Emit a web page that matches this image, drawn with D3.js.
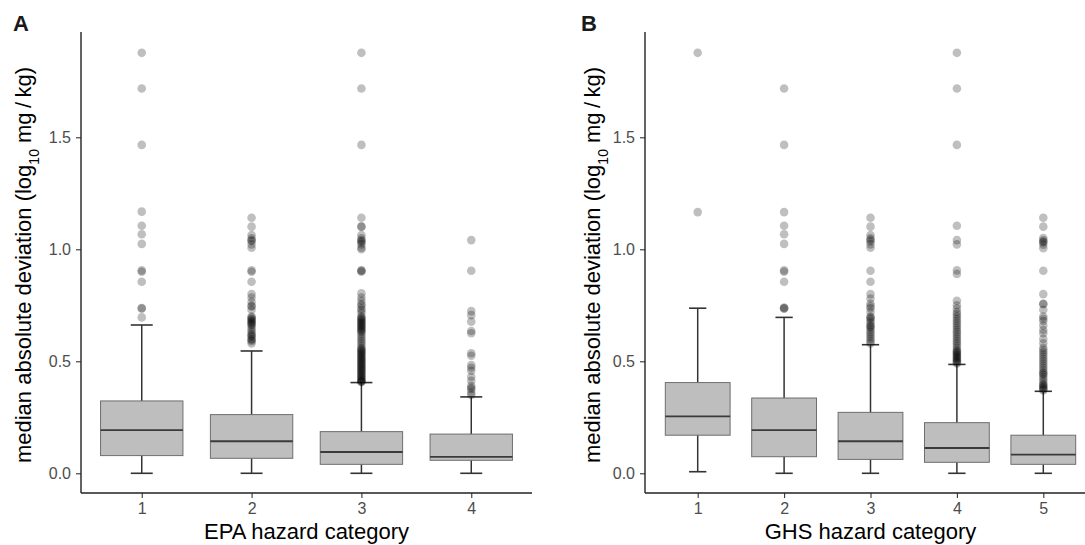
<!DOCTYPE html>
<html>
<head>
<meta charset="utf-8">
<script src="https://cdn.jsdelivr.net/npm/d3@7"></script>
<style>
  body { margin: 0; background: #fff; }
  svg { font-family: "Liberation Sans", Arial, sans-serif; display: block; }
  .tick text { font-size: 16px; }
</style>
</head>
<body>
<svg id="chart" width="1085" height="545"></svg>
<script>

/////////////////////////////////
// DATA
//////////////////////////////////

// Panel A - EPA hazard category
var epaCats = ["1", "2", "3", "4"];
var epaLow = [0.0, 0.0, 0.0, 0.0];
var epaQ1 = [0.079, 0.067, 0.040, 0.058];
var epaMedian = [0.193, 0.143, 0.095, 0.073];
var epaQ3 = [0.323, 0.262, 0.186, 0.175];
var epaHigh = [0.662, 0.546, 0.405, 0.341];
var epaOutliers = [
  [1.877, 1.718, 1.466, 1.168, 1.105, 1.067, 1.024, 0.906, 0.900, 0.855, 0.738, 0.735, 0.696],
  [1.141, 1.101, 1.064, 1.049, 1.040, 1.037, 1.022, 1.007, 0.906, 0.900, 0.855, 0.800, 0.785,
   0.765, 0.748, 0.745, 0.730, 0.700, 0.695, 0.690, 0.685, 0.680, 0.675, 0.670, 0.665, 0.660,
   0.650, 0.640, 0.630, 0.620, 0.615, 0.610, 0.600, 0.595, 0.590, 0.580],
  [1.877, 1.718, 1.466, 1.141, 1.101, 1.101, 1.064, 1.049, 1.040, 1.037, 1.030, 1.022, 1.007,
   1.000, 0.906, 0.904, 0.900, 0.803, 0.785, 0.770, 0.755, 0.748, 0.735, 0.727, 0.715, 0.700,
   0.695, 0.690, 0.685, 0.680, 0.675, 0.670, 0.665, 0.660, 0.655, 0.650, 0.645, 0.640, 0.635,
   0.630, 0.620, 0.610, 0.600, 0.590, 0.580, 0.570, 0.560, 0.555, 0.550, 0.545, 0.540, 0.535,
   0.530, 0.525, 0.520, 0.515, 0.510, 0.505, 0.500, 0.495, 0.490, 0.485, 0.480, 0.475, 0.470,
   0.465, 0.460, 0.455, 0.450, 0.445, 0.440, 0.435, 0.430, 0.425, 0.420, 0.415, 0.410, 0.410, 0.408],
  [1.041, 0.904, 0.724, 0.706, 0.677, 0.635, 0.625, 0.536, 0.525, 0.483, 0.471, 0.458, 0.431,
   0.413, 0.391, 0.382, 0.375, 0.360, 0.350]
];

// Panel B - GHS hazard category
var ghsCats = ["1", "2", "3", "4", "5"];
var ghsLow = [0.007, 0.0, 0.0, 0.0, 0.0];
var ghsQ1 = [0.170, 0.074, 0.062, 0.049, 0.040];
var ghsMedian = [0.254, 0.193, 0.143, 0.113, 0.083];
var ghsQ3 = [0.405, 0.336, 0.272, 0.226, 0.170];
var ghsHigh = [0.737, 0.696, 0.574, 0.486, 0.366];
var ghsOutliers = [
  [1.877, 1.166],
  [1.718, 1.466, 1.166, 1.105, 1.067, 1.024, 0.906, 0.900, 0.855, 0.740, 0.737, 0.735],
  [1.141, 1.101, 1.064, 1.049, 1.042, 1.035, 1.022, 1.007, 0.904, 0.855, 0.800, 0.780, 0.757,
   0.745, 0.737, 0.720, 0.700, 0.695, 0.690, 0.680, 0.670, 0.660, 0.655, 0.650, 0.640, 0.630,
   0.620, 0.610, 0.600, 0.590, 0.580],
  [1.877, 1.718, 1.466, 1.105, 1.041, 1.022, 0.906, 0.890, 0.770, 0.750, 0.735, 0.720, 0.710,
   0.700, 0.690, 0.680, 0.670, 0.660, 0.650, 0.640, 0.630, 0.620, 0.610, 0.600, 0.590, 0.580,
   0.570, 0.560, 0.550, 0.545, 0.540, 0.535, 0.530, 0.525, 0.520, 0.515, 0.510, 0.505, 0.500,
   0.495, 0.490],
  [1.141, 1.101, 1.050, 1.040, 1.035, 1.030, 1.020, 1.005, 0.904, 0.800, 0.757, 0.755, 0.730,
   0.700, 0.690, 0.680, 0.660, 0.640, 0.625, 0.600, 0.580, 0.560, 0.550, 0.540, 0.530, 0.520,
   0.510, 0.500, 0.490, 0.480, 0.470, 0.460, 0.450, 0.445, 0.440, 0.430, 0.420, 0.410, 0.400,
   0.395, 0.390, 0.385, 0.380, 0.375, 0.370]
];

var yTicks = [0.0, 0.5, 1.0, 1.5];


/////////////////////////////////
// LAYOUT
//////////////////////////////////

var svg = d3.select("#chart");

var plotTop = 32;
var plotBottom = 493;

var y = d3.scaleLinear()
  .domain([-0.088, 1.97])
  .range([plotBottom, plotTop]);


/////////////////////////////////
// DRAW ONE PANEL
//////////////////////////////////

function drawPanel(p) {

  var g = svg.append("g");

  var x = d3.scalePoint()
    .domain(p.cats)
    .range([p.left, p.right])
    .padding(p.pad);

  var step = x.step();
  var boxW = step * 0.75;
  var capW = step * 0.2;

  var rows = p.cats.map(function(c, i) {
    return {cat: c, low: p.low[i], q1: p.q1[i], med: p.med[i], q3: p.q3[i], high: p.high[i], out: p.out[i]};
  });

  // whiskers
  g.selectAll(".whisker")
    .data(rows)
    .enter()
    .append("line")
      .attr("x1", function(d) { return x(d.cat); })
      .attr("x2", function(d) { return x(d.cat); })
      .attr("y1", function(d) { return y(d.low); })
      .attr("y2", function(d) { return y(d.high); })
      .attr("stroke", "#333")
      .attr("stroke-width", 1.5);

  // caps
  ["low", "high"].forEach(function(k) {
    g.selectAll(".cap-" + k)
      .data(rows)
      .enter()
      .append("line")
        .attr("x1", function(d) { return x(d.cat) - capW / 2; })
        .attr("x2", function(d) { return x(d.cat) + capW / 2; })
        .attr("y1", function(d) { return y(d[k]); })
        .attr("y2", function(d) { return y(d[k]); })
        .attr("stroke", "#333")
        .attr("stroke-width", 1.6);
  });

  // boxes
  g.selectAll(".box")
    .data(rows)
    .enter()
    .append("rect")
      .attr("x", function(d) { return x(d.cat) - boxW / 2; })
      .attr("width", boxW)
      .attr("y", function(d) { return y(d.q3); })
      .attr("height", function(d) { return y(d.q1) - y(d.q3); })
      .attr("fill", "#bebebe")
      .attr("stroke", "#6e6e6e")
      .attr("stroke-width", 1);

  // medians
  g.selectAll(".median")
    .data(rows)
    .enter()
    .append("line")
      .attr("x1", function(d) { return x(d.cat) - boxW / 2; })
      .attr("x2", function(d) { return x(d.cat) + boxW / 2; })
      .attr("y1", function(d) { return y(d.med); })
      .attr("y2", function(d) { return y(d.med); })
      .attr("stroke", "#3a3a3a")
      .attr("stroke-width", 1.8);

  // outliers
  var pts = [];
  rows.forEach(function(d) {
    d.out.forEach(function(v) { pts.push({cat: d.cat, v: v}); });
  });

  g.selectAll(".outlier")
    .data(pts)
    .enter()
    .append("circle")
      .attr("cx", function(d) { return x(d.cat); })
      .attr("cy", function(d) { return y(d.v); })
      .attr("r", 4.3)
      .attr("fill", "#000")
      .attr("fill-opacity", 0.25);

  // axes
  var xAxis = g.append("g")
    .attr("transform", "translate(0," + plotBottom + ")")
    .call(d3.axisBottom(x).tickSize(5).tickPadding(5));
  xAxis.select(".domain").remove();
  xAxis.append("line")
    .attr("x1", p.axisLeft).attr("x2", p.right)
    .attr("stroke", "#222").attr("stroke-width", 1.4);

  var yAxis = g.append("g")
    .attr("transform", "translate(" + p.axisLeft + ",0)")
    .call(d3.axisLeft(y).tickValues(yTicks).tickFormat(d3.format(".1f")).tickSize(5).tickPadding(5));
  yAxis.select(".domain").remove();
  yAxis.append("line")
    .attr("y1", plotTop).attr("y2", plotBottom)
    .attr("stroke", "#222").attr("stroke-width", 1.4);

  [xAxis, yAxis].forEach(function(a) {
    a.attr("font-size", 16).attr("font-family", "Liberation Sans, Arial, sans-serif");
    a.selectAll(".tick line").attr("stroke", "#333").attr("stroke-width", 1.1);
    a.selectAll(".tick text").attr("fill", "#4d4d4d");
  });

  // axis titles
  g.append("text")
    .attr("x", (p.axisLeft + p.right) / 2)
    .attr("y", 539)
    .attr("text-anchor", "middle")
    .style("font-size", "22px")
    .attr("fill", "#000")
    .text(p.xTitle);

  var yt = g.append("text")
    .attr("transform", "translate(" + p.yTitleX + "," + 265 + ") rotate(-90)")
    .attr("text-anchor", "middle")
    .style("font-size", "22px")
    .attr("fill", "#000");
  yt.append("tspan").text("median absolute deviation (log");
  yt.append("tspan").attr("baseline-shift", "sub").style("font-size", "14px").text("10");
  yt.append("tspan").text(" mg\u2009/\u2009kg)");

  // panel letter
  g.append("text")
    .attr("x", p.letterX)
    .attr("y", 31)
    .style("font-size", "22px")
    .style("font-weight", "bold")
    .attr("fill", "#1a1a1a")
    .text(p.letter);
}


/////////////////////////////////
// DRAW BOTH PANELS
//////////////////////////////////

drawPanel({
  cats: epaCats, low: epaLow, q1: epaQ1, med: epaMedian, q3: epaQ3, high: epaHigh, out: epaOutliers,
  left: 81, right: 532, pad: 0.553, axisLeft: 81,
  xTitle: "EPA hazard category", yTitleX: 31, letter: "A", letterX: 13
});

drawPanel({
  cats: ghsCats, low: ghsLow, q1: ghsQ1, med: ghsMedian, q3: ghsQ3, high: ghsHigh, out: ghsOutliers,
  left: 645, right: 1096, pad: 0.61, axisLeft: 645,
  xTitle: "GHS hazard category", yTitleX: 600, letter: "B", letterX: 581
});

</script>
</body>
</html>
